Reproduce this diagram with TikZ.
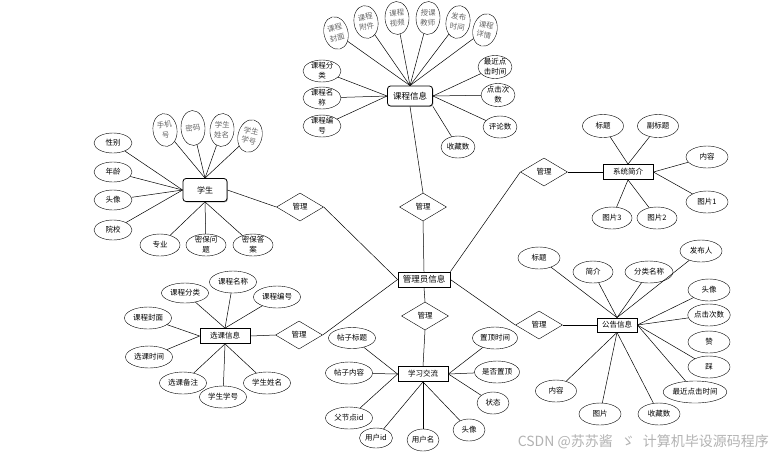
\documentclass[tikz,border=0pt]{standalone}
\usepackage{fontspec}
\newfontfamily\cjk{Noto Sans CJK SC}
\usetikzlibrary{shapes.geometric,shadows}

\begin{document}
\begin{tikzpicture}[x=1pt,y=-1pt,
  every node/.style={font=\cjk\fontsize{7.5}{10}\selectfont},
  attr/.style={draw,ellipse,inner xsep=0pt,inner ysep=-1.5pt,align=center,minimum width=#1,minimum height=22},
  attr/.default=42,
  vattr/.style={draw,ellipse,inner xsep=0pt,inner ysep=-1.5pt,align=center,minimum width=24,minimum height=33,
    text=black!60,rotate=#1},
  vattr/.default=0,
  ent/.style={draw,line width=0.8pt,rectangle,inner sep=1pt,fill=white,
    minimum width=50,minimum height=15,
    drop shadow={shadow xshift=0.8pt,shadow yshift=-0.8pt,fill=black!35,opacity=1}},
  entr/.style={ent,rounded corners=3pt},
  rel/.style={draw,diamond,aspect=1.7,inner sep=0pt,minimum width=47,minimum height=28},
  link/.style={line width=0.5pt}
]
  % Fix the page to the size of the reference
  \useasboundingbox (0,0) rectangle (775,459);

  % Central entity
  \node[ent,minimum width=52,font=\cjk\fontsize{8.5}{9}\selectfont] (gly) at (424,279.5) {管理员信息};

  % Relationships
  \node[rel] (glXs) at (300,207) {管理};
  \node[rel] (glKc) at (423,207) {管理};
  \node[rel] (glXt) at (544,172) {管理};
  \node[rel] (glXk) at (299,335) {管理};
  \node[rel] (glXx) at (425,316) {管理};
  \node[rel] (glGg) at (539,325) {管理};

  % Entities
  \node[entr,minimum width=45,minimum height=20,font=\cjk\fontsize{8.5}{9}\selectfont] (kc) at (410,96) {课程信息};
  \node[entr,minimum width=44,minimum height=23,font=\cjk\fontsize{8}{9}\selectfont] (xs) at (205,190) {学生};
  \node[ent] (xt) at (628,172) {系统简介};
  \node[ent] (xk) at (225,336) {选课信息};
  \node[ent] (xx) at (423,374) {学习交流};
  \node[ent,minimum width=40,minimum height=14] (gg) at (617,325) {公告信息};

  % Links between entities and relationships
  \draw[link] (xs.east) -- (glXs.west);
  \draw[link] (glXs.east) -- (gly.west);
  \draw[link] (kc.south) -- (glKc.north);
  \draw[link] (glKc.south) -- (gly.north);
  \draw[link] (xt.west) -- (glXt.east);
  \draw[link] (glXt.west) -- (gly.north east);
  \draw[link] (xk.east) -- (glXk.west);
  \draw[link] (glXk.east) -- (gly.west);
  \draw[link] (gly.south) -- (glXx.north);
  \draw[link] (glXx.south) -- (xx.north);
  \draw[link] (gly.east) -- (glGg.west);
  \draw[link] (glGg.east) -- (gg.west);

  % Attributes of 课程信息
  \node[vattr=14]  (kcFm) at (336,33) {课程\\封面};
  \node[vattr=9]   (kcFj) at (366,22) {课程\\附件};
  \node[vattr=3]   (kcSp) at (397,18) {课程\\视频};
  \node[vattr=-3]  (kcJs) at (428,18) {授课\\教师};
  \node[vattr=-9]  (kcSj) at (458,22) {发布\\时间};
  \node[vattr=-14] (kcXq) at (485,30) {课程\\详情};
  \node[attr=38] (kcFl) at (322,71) {课程分\\类};
  \node[attr=38] (kcMc) at (322,98) {课程名\\称};
  \node[attr=38] (kcBh) at (322,126) {课程编\\号};
  \node[attr=34,minimum height=23] (kcZj) at (495,67) {最近点\\击时间};
  \node[attr=34,minimum height=23] (kcDj) at (498,95) {点击次\\数};
  \node[attr=34] (kcPl) at (500,127) {评论数};
  \node[attr=34] (kcSc) at (458,147) {收藏数};
  \foreach \a in {kcFm,kcFj,kcSp,kcJs,kcSj,kcXq} \draw[link] (kc.north) -- (\a);
  \foreach \a in {kcFl,kcMc,kcBh} \draw[link] (kc.west) -- (\a);
  \foreach \a in {kcZj,kcDj,kcPl} \draw[link] (kc.east) -- (\a);
  \draw[link] (kc.south east) -- (kcSc);

  % Attributes of 学生
  \node[vattr=8]   (xsSj) at (165,130) {手机\\号};
  \node[vattr=3,minimum height=35] (xsMm) at (193,128) {密码};
  \node[vattr=-5]  (xsXm) at (222,130) {学生\\姓名};
  \node[vattr=-14] (xsXh) at (250,136) {学生\\学号};
  \node[attr=38,minimum height=20] (xsXb) at (113,143) {性别};
  \node[attr=38,minimum height=20] (xsNl) at (113,172) {年龄};
  \node[attr=38,minimum height=20] (xsTx) at (113,200) {头像};
  \node[attr=38,minimum height=20] (xsYx) at (113,230) {院校};
  \node[attr=40] (xsZy) at (160,245) {专业};
  \node[attr=40] (xsWt) at (206,245) {密保问\\题};
  \node[attr=40] (xsDa) at (253,245) {密保答\\案};
  \foreach \a in {xsSj,xsMm,xsXm,xsXh} \draw[link] (xs.north) -- (\a);
  \foreach \a in {xsXb,xsNl,xsTx,xsYx} \draw[link] (xs.west) -- (\a);
  \foreach \a in {xsZy,xsWt,xsDa} \draw[link] (xs.south) -- (\a);

  % Attributes of 系统简介
  \node[attr=41,minimum height=23] (xtBt) at (603,126) {标题};
  \node[attr=41,minimum height=23] (xtFb) at (658,126) {副标题};
  \node[attr] (xtNr) at (707,157) {内容};
  \node[attr] (xtT1) at (707,202) {图片1};
  \node[attr=40] (xtT3) at (612,218) {图片3};
  \node[attr=40] (xtT2) at (657,218) {图片2};
  \foreach \a in {xtBt,xtFb} \draw[link] (xt.north) -- (\a);
  \foreach \a in {xtNr,xtT1} \draw[link] (xt.east) -- (\a);
  \foreach \a in {xtT3,xtT2} \draw[link] (xt.south) -- (\a);

  % Attributes of 选课信息
  \node[attr=47,minimum height=20] (xkFl) at (185,293) {课程分类};
  \node[attr=47] (xkMc) at (233,282) {课程名称};
  \node[attr=47] (xkBh) at (277,297) {课程编号};
  \node[attr=47] (xkFm) at (148,318) {课程封面};
  \node[attr=47] (xkSj) at (149,357) {选课时间};
  \node[attr=47] (xkBz) at (183,383) {选课备注};
  \node[attr=47] (xkXh) at (223,397) {学生学号};
  \node[attr=47] (xkXm) at (267,383) {学生姓名};
  \foreach \a in {xkFl,xkMc,xkBh} \draw[link] (xk.north) -- (\a);
  \foreach \a in {xkFm,xkSj} \draw[link] (xk.west) -- (\a);
  \foreach \a in {xkBz,xkXh,xkXm} \draw[link] (xk.south) -- (\a);

  % Attributes of 学习交流
  \node[attr=47,minimum height=21] (xxBt) at (352,338) {帖子标题};
  \node[attr=47] (xxNr) at (349,373) {帖子内容};
  \node[attr=47] (xxFid) at (349,418) {父节点id};
  \node[attr=33,minimum height=20] (xxUid) at (376,438) {用户id};
  \node[attr=32] (xxUm) at (423,440) {用户名};
  \node[attr=32] (xxTx) at (469,430) {头像};
  \node[attr=32] (xxZt) at (493,403) {状态};
  \node[attr=45] (xxSf) at (497,372) {是否置顶};
  \node[attr=45] (xxZd) at (495,338) {置顶时间};
  \foreach \a in {xxBt,xxNr,xxFid} \draw[link] (xx.west) -- (\a);
  \foreach \a in {xxUid,xxUm,xxTx} \draw[link] (xx.south) -- (\a);
  \foreach \a in {xxZd,xxSf,xxZt} \draw[link] (xx.east) -- (\a);

  % Attributes of 公告信息
  \node[attr] (ggBt) at (539,258) {标题};
  \node[attr=40] (ggJj) at (593,272) {简介};
  \node[attr=48] (ggFl) at (649,272) {分类名称};
  \node[attr] (ggFb) at (701,251) {发布人};
  \node[attr] (ggTx) at (709,290) {头像};
  \node[attr] (ggDj) at (709,315) {点击次数};
  \node[attr] (ggZan) at (709,342) {赞};
  \node[attr] (ggCai) at (709,367) {踩};
  \node[attr=63] (ggZj) at (695,392) {最近点击时间};
  \node[attr] (ggSc) at (659,414) {收藏数};
  \node[attr] (ggTp) at (600,414) {图片};
  \node[attr=41] (ggNr) at (556,391) {内容};
  \foreach \a in {ggBt,ggJj,ggFl,ggFb} \draw[link] (gg.north) -- (\a);
  \foreach \a in {ggTx,ggDj,ggCai,ggZj} \draw[link] (gg.east) -- (\a);
  \foreach \a in {ggNr,ggTp,ggSc} \draw[link] (gg.south) -- (\a);

  % Watermark
  \node[anchor=east,inner sep=0pt,text=black!30,font=\cjk\fontsize{14}{15}\selectfont] (wm) at (769,442)
    {CSDN @苏苏酱\hspace{8pt}ゞ\hspace{8pt}计算机毕设源码程序};
\end{tikzpicture}
\end{document}
